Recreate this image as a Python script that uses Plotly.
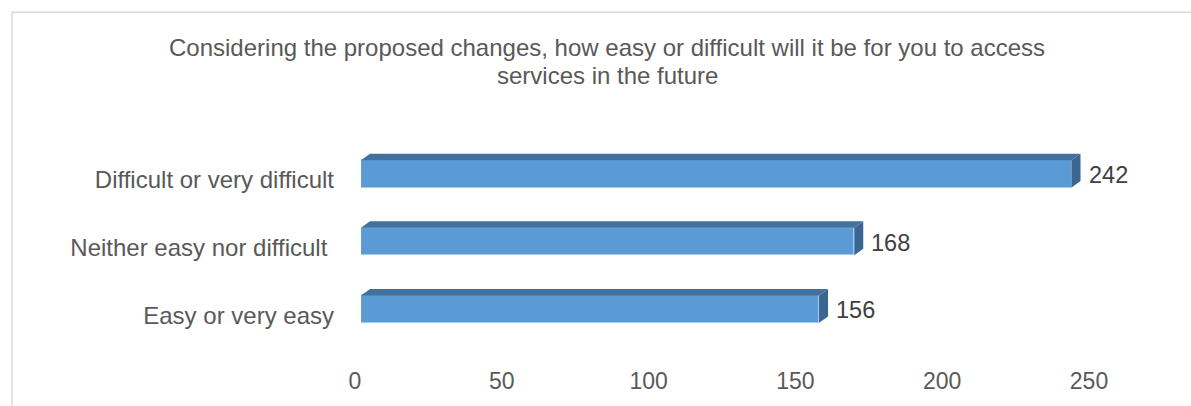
import plotly.graph_objects as go

# ---- data ----
categories = ["Easy or very easy", "Neither easy nor difficult\u00a0", "Difficult or very difficult"]
values = [156, 168, 242]
x_ticks = [0, 50, 100, 150, 200, 250]
title_lines = ["Considering the proposed changes, how easy or difficult will it be for you to access",
               "services in the future"]

# ---- layout geometry (pixels) ----
W, H = 1191, 406
ML, MR, MT, MB = 361, 96, 140, 61
plot_w = W - ML - MR
plot_h = H - MT - MB
x_range = [0, 250]
y_range = [-0.5, 2.5]
px_per_x = plot_w / (x_range[1] - x_range[0])
px_per_y = plot_h / (y_range[1] - y_range[0])

depth_dx = 9 / px_per_x      # 3D depth offset, in data units
depth_dy = 6.5 / px_per_y
bar_w = 0.405
half = bar_w / 2

FONT = "Liberation Sans, Arial, sans-serif"
front_col = "#5B9BD5"
top_col = "#41719C"
side_col = "#3A6691"

fig = go.Figure()

ypos = list(range(len(categories)))

# front faces
fig.add_trace(go.Bar(
    x=values, y=ypos, orientation="h", width=bar_w,
    marker=dict(color=front_col, line=dict(width=0.8, color="#A9C9EA")),
    hoverinfo="skip", showlegend=False,
))

# top and side faces of the 3D bars
for yc, v in zip(ypos, values):
    top_y = yc + half
    bot_y = yc - half
    fig.add_trace(go.Scatter(
        x=[0, v, v + depth_dx, depth_dx, 0],
        y=[top_y, top_y, top_y + depth_dy, top_y + depth_dy, top_y],
        fill="toself", fillcolor=top_col, mode="lines",
        line=dict(width=0), hoverinfo="skip", showlegend=False,
    ))
    fig.add_trace(go.Scatter(
        x=[v, v + depth_dx, v + depth_dx, v, v],
        y=[bot_y, bot_y + depth_dy, top_y + depth_dy, top_y, bot_y],
        fill="toself", fillcolor=side_col, mode="lines",
        line=dict(width=0), hoverinfo="skip", showlegend=False,
    ))
    fig.add_annotation(
        x=v + depth_dx, y=yc, text=str(v), showarrow=False,
        xanchor="left", yanchor="middle", xshift=6, yshift=-1,
        font=dict(family=FONT, size=23.5, color="#404040"),
    )

# title (two centred lines)
for i, line in enumerate(title_lines):
    py = 47 + 28 * i
    fig.add_annotation(
        xref="paper", yref="paper",
        x=(607 - ML) / plot_w, y=(H - MB - py) / plot_h,
        text=line, showarrow=False, xanchor="center", yanchor="middle",
        font=dict(family=FONT, size=24, color="#595959"),
    )

# chart border (Excel chart area)
fig.add_shape(
    type="rect", xref="paper", yref="paper",
    x0=(12 - ML) / plot_w, x1=(W + 20 - ML) / plot_w,
    y0=(MB - H - 20) / plot_h, y1=(H - 11 - MB) / plot_h,
    line=dict(color="#D9D9D9", width=1.5), fillcolor="rgba(0,0,0,0)", layer="below",
)

fig.update_layout(
    width=W, height=H,
    margin=dict(l=ML, r=MR, t=MT, b=MB, pad=0),
    paper_bgcolor="white", plot_bgcolor="white",
    bargap=0,
    xaxis=dict(
        range=x_range, tickvals=x_ticks, ticktext=[str(t) for t in x_ticks],
        showgrid=False, zeroline=False, showline=False, ticks="",
        ticklabelshift=-6, ticklabelstandoff=22,
        tickfont=dict(family=FONT, size=23, color="#595959"),
    ),
    yaxis=dict(
        range=y_range, tickvals=ypos, ticktext=categories,
        showgrid=False, zeroline=False, showline=False, ticks="",
        ticklabelshift=6, ticklabelstandoff=26,
        tickfont=dict(family=FONT, size=24, color="#595959"),
    ),
    font=dict(family=FONT),
)

fig.write_html(
    "out.html",
    config={"displayModeBar": False},
    post_script="document.body.style.margin='0';document.body.style.overflow='hidden';",
)
